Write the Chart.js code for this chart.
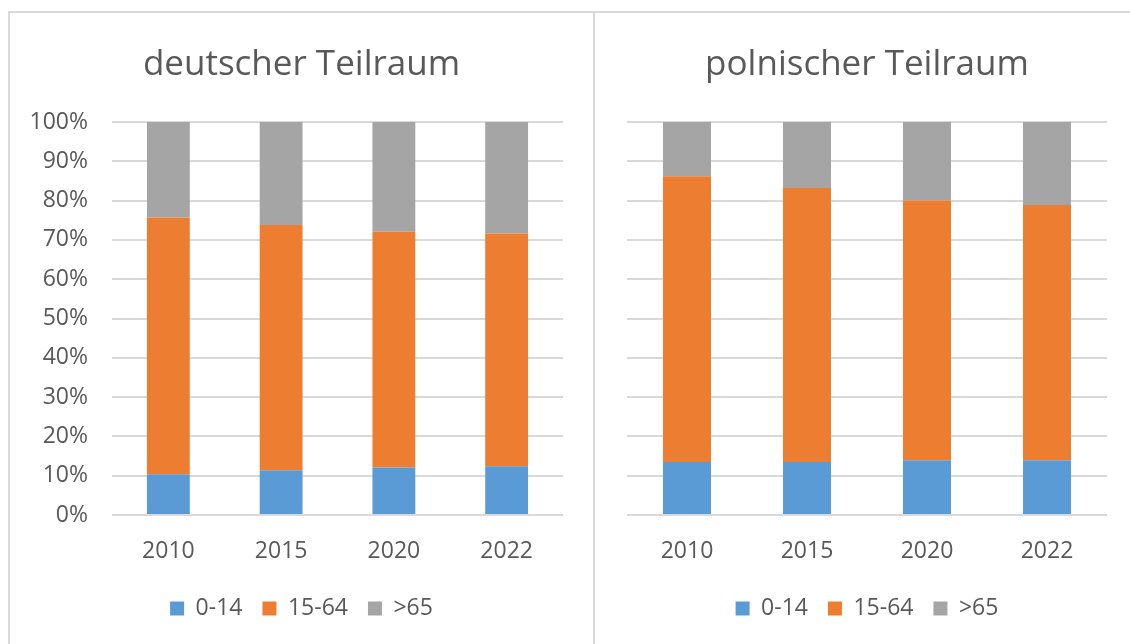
<!DOCTYPE html>
<html>
<head>
<meta charset="utf-8">
<script src="https://cdn.jsdelivr.net/npm/chart.js@4.4.0/dist/chart.umd.min.js"></script>
<style>
  html, body { margin: 0; padding: 0; background: #fff; overflow: hidden; }
  body { width: 1130px; height: 644px; position: relative; }
  .box { position: absolute; }
  .line { position: absolute; background: #d9d9d9; }
</style>
</head>
<body>
<div class="line" style="left:8px; top:11px; width:1122px; height:2px;"></div>
<div class="line" style="left:8px; top:11px; width:2px; height:633px;"></div>
<div class="line" style="left:593px; top:11px; width:2px; height:633px;"></div>
<div class="box" style="left:10px; top:13px; width:583px; height:631px;"><canvas id="chartDE"></canvas></div>
<div class="box" style="left:595px; top:13px; width:544px; height:631px;"><canvas id="chartPL"></canvas></div>
<script>
var years = ["2010", "2015", "2020", "2022"];
var seriesNames = ["0-14", "15-64", ">65"];
var seriesColors = ["#5b9bd5", "#ed7d31", "#a5a5a5"];

// deutscher Teilraum, shares in %
var deYoung = [10.4, 11.4, 12.1, 12.4];
var deWork = [65.3, 62.4, 60.0, 59.2];
var deOld = [24.3, 26.2, 27.9, 28.4];

// polnischer Teilraum, shares in %
var plYoung = [13.5, 13.5, 13.9, 13.9];
var plWork = [72.7, 69.7, 66.1, 65.0];
var plOld = [13.8, 16.8, 20.0, 21.1];

var textColor = "#595959";
var fontFamily = "'Open Sans', 'Noto Sans', sans-serif";

function makeChart(id, title, young, work, old, yWidth, showY, rightWidth, barPct) {
  var values = [young, work, old];
  var datasets = [];
  for (var i = 0; i < 3; ++i) {
    datasets.push({
      label: seriesNames[i],
      data: values[i],
      backgroundColor: seriesColors[i],
      borderWidth: 0,
      categoryPercentage: 1,
      barPercentage: barPct
    });
  }

  return new Chart(document.getElementById(id), {
    type: 'bar',
    data: { labels: years, datasets: datasets },
    options: {
      responsive: true,
      maintainAspectRatio: false,
      animation: false,
      layout: { padding: { left: 0, right: 0, top: 0, bottom: 14 } },
      plugins: {
        title: {
          display: true,
          text: title,
          color: textColor,
          font: { family: fontFamily, size: 35, weight: 'normal' },
          padding: { top: 31, bottom: 36 }
        },
        legend: {
          position: 'bottom',
          labels: {
            color: textColor,
            font: { family: fontFamily, size: 23 },
            boxWidth: 14,
            boxHeight: 14,
            padding: 20
          }
        },
        tooltip: { enabled: false }
      },
      scales: {
        x: {
          stacked: true,
          grid: { display: false },
          border: { display: false },
          ticks: { color: textColor, font: { family: fontFamily, size: 23 }, padding: 15 },
          afterFit: function (scale) { scale.height = 62; }
        },
        y: {
          stacked: true,
          min: 0,
          max: 100,
          grid: { color: "#d9d9d9", lineWidth: 2, drawTicks: false },
          border: { display: false },
          ticks: {
            display: showY,
            stepSize: 10,
            color: textColor,
            font: { family: fontFamily, size: 23 },
            padding: 24,
            callback: function (v) { return v + "%"; }
          },
          afterFit: function (scale) { scale.width = yWidth; }
        },
        // empty right-hand margin so title and legend stay centred on the panel
        yRight: {
          position: 'right',
          grid: { display: false },
          border: { display: false },
          ticks: { display: false },
          afterFit: function (scale) { scale.width = rightWidth; }
        }
      }
    }
  });
}

makeChart("chartDE", "deutscher Teilraum", deYoung, deWork, deOld, 102, true, 30, 0.38);
makeChart("chartPL", "polnischer Teilraum", plYoung, plWork, plOld, 32, false, 32, 0.4);
</script>
</body>
</html>
